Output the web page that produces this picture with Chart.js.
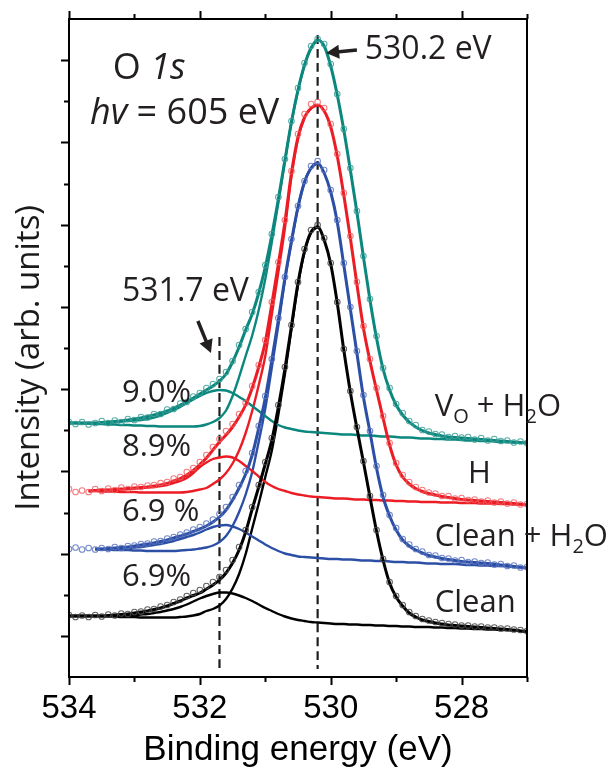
<!DOCTYPE html>
<html>
<head>
<meta charset="utf-8">
<script src="https://cdn.jsdelivr.net/npm/chart.js@4.4.0/dist/chart.umd.min.js"></script>
<style>
  html, body { margin: 0; padding: 0; background: #fff; }
  canvas { display: block; }
</style>
</head>
<body>
<canvas id="xps" width="612" height="778"></canvas>
<script>
// binding energy grid (eV), high to low
const energies = [534.0, 533.9, 533.8, 533.7, 533.6, 533.5, 533.4, 533.3, 533.2, 533.1,
  533.0, 532.9, 532.8, 532.7, 532.6, 532.5, 532.4, 532.3, 532.2, 532.1,
  532.0, 531.9, 531.8, 531.7, 531.6, 531.5, 531.4, 531.3, 531.2, 531.1,
  531.0, 530.9, 530.8, 530.7, 530.6, 530.5, 530.4, 530.3, 530.2, 530.1,
  530.0, 529.9, 529.8, 529.7, 529.6, 529.5, 529.4, 529.3, 529.2, 529.1,
  529.0, 528.9, 528.8, 528.7, 528.6, 528.5, 528.4, 528.3, 528.2, 528.1,
  528.0, 527.9, 527.8, 527.7, 527.6, 527.5, 527.4, 527.3, 527.2, 527.1, 527.0];

const xTickLabels = [534, 532, 530, 528];
const xMinorTicks = [533, 531, 529, 527];

// reference energies of the two O 1s components
const peakLattice = 530.2;
const peakHydroxyl = 531.7;

// V_O + H2O (stacked on top)
const voH2oData = [255, 253, 255, 252.5, 254, 256, 254, 256.5, 255, 258,
  257, 260, 259.5, 263, 263, 267.5, 268, 273.5, 275, 280.5,
  284, 289, 293, 298, 305, 316, 332, 348, 365, 385,
  412, 443, 480, 518, 556, 589, 614, 631, 638, 633,
  613, 583, 548, 509, 466, 421, 378, 341, 309, 289,
  273, 264, 256, 252, 247, 245.5, 243, 242.5, 240, 241,
  239.5, 240, 237.5, 239, 236.5, 238, 236, 236.5, 234.5, 235.5, 234];
const voH2oFit = [254, 254, 254, 254, 254, 254.5, 255, 255.5, 256, 257,
  258, 259, 260.5, 262, 264, 266, 269, 272, 275, 279,
  283, 287, 291, 296, 303, 315, 330, 347, 363, 384,
  410, 442, 478, 517, 555, 587, 612, 629, 637, 631,
  611, 582, 547, 507, 465, 420, 377, 339, 308, 287,
  272, 262, 255, 250, 246.5, 244, 242.5, 241, 240, 239.5,
  239, 238.5, 238, 237.5, 237, 236.5, 236, 235.5, 235, 234.5, 234];
const voH2oMain = [254, 254, 253.5, 253.5, 253, 253, 252.5, 252.5, 252, 252,
  251.5, 251.5, 251, 251, 250.5, 250.5, 250.5, 250.5, 250.5, 250.5,
  251, 252.5, 255, 259, 266.5, 281, 300, 321, 341.5, 367,
  398, 435, 474.5, 515.5, 554.5, 586.5, 612, 629, 637];
const voH2oOH = [254, 254, 254, 254, 254, 254, 254.5, 255, 255.5, 256,
  256.5, 257, 258, 259.5, 261.5, 264, 267, 270, 274, 277.5,
  281, 284, 286, 287, 286.5, 284, 280, 276, 271, 266,
  261, 256, 252, 249.5, 248, 246.5, 245.5, 245, 244.5, 244,
  243.5, 243, 242.5, 242.5, 242, 241.5, 241.5, 241, 240.5, 240.5,
  240, 239.5, 239.5, 239, 238.5, 238.5, 238, 238, 237.5, 237.5,
  237, 236.5, 236.5, 236, 236, 235.5, 235, 235, 234.5, 234.5, 234];

// H
const hData = [188, 185, 186.5, 185, 188, 186, 188.5, 187, 189.5, 188,
  190.5, 190, 191.5, 192, 194, 195, 198.5, 200, 205, 209,
  215, 222, 230, 238, 246, 253, 263, 274, 291, 312,
  337, 375, 415, 457, 506, 543, 563, 573, 575, 569,
  553, 523, 484, 441, 395, 351, 318, 289, 261, 234,
  214, 202, 195, 190, 187, 184.5, 183.5, 181, 181, 178.5,
  179, 177, 177.5, 175.5, 176.5, 174.5, 175.5, 173.5, 174.5, 172.5, 173];
const hFit = [null, null, null, 186, 186.5, 187, 187, 187.5, 188, 188.5,
  189, 189.5, 190, 191, 192, 193.5, 196, 198.5, 202, 206.5,
  212.5, 219, 227, 235, 242, 250, 260, 272, 289, 310,
  335, 373, 413, 455, 504, 540, 560, 569, 572, 566,
  550, 521, 482, 439, 393, 349, 316, 287, 259, 232,
  212, 200, 193, 188.5, 185.5, 183.5, 182, 180.5, 179.5, 178.5,
  177.5, 177, 176.5, 176, 175.5, 175, 174.5, 174, 173.5, 173, 172];
const hMain = [null, null, null, 186, 186, 185.5, 185.5, 185.5, 185, 185,
  185, 184.5, 184.5, 184.5, 184.5, 184.5, 184.5, 184.5, 185, 186,
  187.5, 189, 193, 197.5, 204, 213.5, 226.5, 244, 266, 292,
  321, 362.5, 405, 449, 500.5, 538, 559, 568.5, 572];
const hOH = [null, null, null, 186, 186.5, 186.5, 187, 187, 187.5, 188,
  188.5, 189, 189.5, 190, 191, 192, 194, 196, 199, 204,
  210, 214.5, 218, 219.5, 220.5, 219.5, 216, 211, 206, 200.5,
  195, 191, 188, 186, 184, 182.5, 181.5, 180.5, 180, 179.5,
  179, 178.5, 178.5, 178, 177.5, 177.5, 177, 177, 176.5, 176.5,
  176, 176, 175.5, 175.5, 175, 175, 175, 174.5, 174.5, 174.5,
  174, 174, 174, 173.5, 173.5, 173.5, 173, 173, 172.5, 172.5, 172];

// Clean + H2O
const cleanH2oData = [128, 129.5, 127.5, 129, 127.5, 129, 128, 130, 129, 131,
  131.5, 133, 133.5, 135.5, 136, 138.5, 140, 142.5, 144.5, 147.5,
  150, 153.5, 157.5, 163, 170, 180, 192, 206, 224, 251,
  281, 318, 359, 400, 438, 471, 496, 511, 516, 507,
  487, 457, 414, 370, 326, 282, 246, 211, 182, 162,
  149, 138, 132.5, 128, 125.5, 122, 121.5, 119, 118.5, 116.5,
  117, 115, 115.5, 114, 114.5, 112.5, 113, 111, 111.5, 109.5, 110];
const cleanH2oFit = [null, null, null, null, 128, 128, 128.5, 129, 129.5, 130,
  131, 132, 133, 134, 135.5, 137, 139, 141, 143, 145.5,
  148, 151, 155, 160, 167, 177, 189, 203, 222, 249,
  279, 317, 357, 399, 436, 470, 495, 509, 514, 504,
  485, 455, 412, 368, 324, 280, 245, 209, 180, 161,
  147, 137, 131, 127, 124, 121.5, 120, 118.5, 117.5, 116.5,
  115.5, 115, 114.5, 114, 113.5, 113, 112, 111.5, 110.5, 110, 109];
const cleanH2oMain = [null, null, null, null, 128, 127.5, 127.5, 127, 127, 127,
  126.5, 126.5, 126, 126, 126, 126, 126, 126.5, 127, 127.5,
  128.5, 129.5, 131.5, 135, 141, 151, 165, 182.5, 205, 235.5,
  268.5, 309.5, 352, 396.5, 434.5, 469.5, 495, 509, 514];
const cleanH2oOH = [null, null, null, null, 128, 128, 128, 128.5, 128.5, 129,
  129.5, 130, 131, 132, 133, 134.5, 136, 138, 140, 142,
  144.5, 147.5, 150, 151.5, 152, 150.5, 148, 144.5, 140.5, 136.5,
  132.5, 129, 126, 123.5, 122, 120.5, 120, 119.5, 119, 118.5,
  118, 118, 117.5, 117.5, 117, 116.5, 116.5, 116, 116, 115.5,
  115, 115, 114.5, 114.5, 114, 113.5, 113.5, 113, 113, 113,
  112.5, 112, 112, 111.5, 111.5, 111, 111, 110.5, 110, 109.5, 109];

// Clean
const cleanData = [62, 60, 61.5, 60, 62, 60.5, 62.5, 61.5, 63.5, 63,
  65, 65.5, 67.5, 68, 70.5, 72, 75, 77.5, 81, 84,
  87, 91, 95, 100, 107, 117, 130, 147, 170, 192,
  215, 239, 272, 310, 352, 395, 428, 447, 452, 439,
  414, 375, 328, 286, 250, 216, 181, 147, 118, 95,
  81, 72, 65, 61, 58, 56.5, 55, 54, 53, 52.5,
  51.5, 51.5, 50.5, 50.5, 49.5, 49.5, 48.5, 48.5, 47.5, 47, 46];
const cleanFit = [61, 61, 61, 61, 61, 61, 61.5, 62, 62.5, 63,
  64, 65, 66, 67.5, 69, 71, 73.5, 76, 79, 81.5,
  84, 88, 92, 97, 104, 114, 127, 145, 168, 190,
  213, 237, 270, 308, 351, 394, 426, 445, 450, 437,
  413, 374, 327, 285, 249, 215, 180, 146, 117, 94,
  80, 71, 64, 60, 57, 55.5, 54, 53, 52, 51.5,
  51, 50.5, 50, 49.5, 49, 48.5, 48, 47.5, 47, 46, 45.5];
const cleanMain = [61, 61, 61, 61, 61, 61, 60.5, 60.5, 60, 60,
  60, 59.5, 59.5, 59.5, 59.5, 59.5, 59.5, 60, 60.5, 61.5,
  63, 66, 68, 71.5, 78, 88.5, 103, 123, 148.5, 173.5,
  200, 226.5, 262.5, 303, 348, 392, 425, 444.5, 450];
const cleanOH = [61, 61, 61, 61, 61, 61, 61, 61.5, 61.5, 62,
  62, 62.5, 63, 64, 65, 66.5, 68, 70, 72.5, 75.5,
  78.5, 81, 83, 84.5, 84.5, 83.5, 81.5, 79, 76, 72.5,
  69, 66, 63, 60.5, 58.5, 57, 56, 55, 54.5, 54,
  53.5, 53, 53, 52.5, 52.5, 52, 52, 51.5, 51.5, 51,
  51, 50.5, 50.5, 50, 50, 50, 49.5, 49.5, 49, 49,
  48.5, 48.5, 48, 48, 47.5, 47.5, 47, 47, 46.5, 46, 45.5];

const toPoints = vals => vals
  .map((v, i) => ({ x: energies[i], y: v }))
  .filter(p => p.y !== null);

const spectrum = (data, fit, main, oh, line, dots) => [
  { data: toPoints(data), showLine: false, pointRadius: 2.8, pointBorderWidth: 1.1,
    pointBorderColor: dots, pointBackgroundColor: 'rgba(255,255,255,0)', order: 0 },
  { data: toPoints(fit), borderColor: line, borderWidth: 3, pointRadius: 0, order: 1 },
  { data: toPoints(main), borderColor: line, borderWidth: 2.4, pointRadius: 0, order: 2 },
  { data: toPoints(oh), borderColor: line, borderWidth: 2.4, pointRadius: 0, order: 2 }
];

// dashed markers: [energy, top of the dash]
const markers = [[peakHydroxyl, 340], [peakLattice, 642]];
const markerSets = markers.map(([e, top]) => ({
  data: [{ x: e, y: top }, { x: e, y: 8 }],
  borderColor: '#1e1e1e', borderWidth: 2.2, borderDash: [9, 5],
  pointRadius: 0, order: 3
}));

const datasets = [
  ...spectrum(voH2oData, voH2oFit, voH2oMain, voH2oOH, '#0b877e', 'rgba(60,160,152,0.85)'),
  ...spectrum(hData, hFit, hMain, hOH, '#ec1c24', 'rgba(240,90,95,0.8)'),
  ...spectrum(cleanH2oData, cleanH2oFit, cleanH2oMain, cleanH2oOH, '#2c4fa6', 'rgba(90,115,190,0.85)'),
  ...spectrum(cleanData, cleanFit, cleanMain, cleanOH, '#000000', 'rgba(70,70,70,0.85)'),
  ...markerSets
];

// text labels placed in data space
const notes = [
  { at: [533.33, 608], size: 36, parts: [['O '], ['1s', 'i']] },
  { at: [533.68, 563], size: 36, parts: [['hv', 'i'], [' = 605 eV']] },
  { at: [529.48, 627], size: 32, parts: [['530.2 eV']] },
  { at: [533.19, 385.5], size: 32, parts: [['531.7 eV']] },
  { at: [533.19, 284], size: 31, parts: [['9.0%']] },
  { at: [533.19, 229.5], size: 31, parts: [['8.9%']] },
  { at: [533.19, 165], size: 31, parts: [['6.9 %']] },
  { at: [533.19, 99.5], size: 31, parts: [['6.9%']] },
  { at: [528.41, 269.5], size: 31, parts: [['V'], ['O', 'sub'], [' + H'], ['2', 'sub'], ['O']] },
  { at: [527.90, 203], size: 31, parts: [['H']] },
  { at: [528.41, 140], size: 31, parts: [['Clean + H'], ['2', 'sub'], ['O']] },
  { at: [528.41, 74], size: 31, parts: [['Clean']] }
];
const arrows = [
  { from: [529.60, 627], to: [530.07, 624] },
  { from: [532.03, 356], to: [531.83, 324] }
];
const yTitle = 'Intensity (arb. units)';

const frame = {
  id: 'frame',
  afterDraw(chart) {
    const { ctx, chartArea: a, scales: { x, y } } = chart;
    ctx.save();
    ctx.strokeStyle = '#000';
    ctx.lineWidth = 2;
    ctx.strokeRect(a.left, a.top, a.right - a.left, a.bottom - a.top);

    // tick marks, pointing out of the box
    ctx.beginPath();
    const step = (y.max - y.min) / 16;
    for (let k = 1; k < 16; k++) {
      const py = Math.round(y.getPixelForValue(k * step)) + 0.5;
      const len = k % 2 ? 8 : 5;
      ctx.moveTo(a.left - len, py); ctx.lineTo(a.left, py);
    }
    const xt = (list, len) => list.forEach(v => {
      const px = Math.round(x.getPixelForValue(v)) + 0.5;
      ctx.moveTo(px, a.bottom); ctx.lineTo(px, a.bottom + len);
      ctx.moveTo(px, a.top); ctx.lineTo(px, a.top - len);
    });
    xt(xTickLabels, 8);
    xt(xMinorTicks, 5);
    ctx.stroke();

    // vertical axis title, sitting a little below the middle of the frame
    ctx.save();
    ctx.translate(30, a.top + (a.bottom - a.top) * 0.515);
    ctx.rotate(-Math.PI / 2);
    ctx.fillStyle = '#1a1a1a';
    ctx.font = '33px "Open Sans"';
    ctx.textAlign = 'center';
    ctx.textBaseline = 'middle';
    ctx.fillText(yTitle, 0, 0);
    ctx.restore();

    // labels
    ctx.fillStyle = '#231f20';
    ctx.textBaseline = 'middle';
    ctx.textAlign = 'left';
    notes.forEach(n => {
      let px = x.getPixelForValue(n.at[0]);
      const py = y.getPixelForValue(n.at[1]);
      n.parts.forEach(([t, style]) => {
        const sub = style === 'sub';
        const size = sub ? Math.round(n.size * 0.66) : n.size;
        ctx.font = (style === 'i' ? 'italic ' : '') + size + 'px "Open Sans"';
        ctx.fillText(t, px, py + (sub ? n.size * 0.33 : 0));
        px += ctx.measureText(t).width;
      });
    });

    // arrows
    ctx.strokeStyle = '#231f20';
    ctx.lineWidth = 3.5;
    arrows.forEach(({ from, to }) => {
      const x0 = x.getPixelForValue(from[0]), y0 = y.getPixelForValue(from[1]);
      const x1 = x.getPixelForValue(to[0]), y1 = y.getPixelForValue(to[1]);
      const ang = Math.atan2(y1 - y0, x1 - x0);
      const head = 13;
      ctx.beginPath();
      ctx.moveTo(x0, y0);
      ctx.lineTo(x1 - Math.cos(ang) * head * 0.8, y1 - Math.sin(ang) * head * 0.8);
      ctx.stroke();
      ctx.beginPath();
      ctx.moveTo(x1, y1);
      ctx.lineTo(x1 - head * Math.cos(ang) + 7 * Math.sin(ang), y1 - head * Math.sin(ang) - 7 * Math.cos(ang));
      ctx.lineTo(x1 - head * Math.cos(ang) - 7 * Math.sin(ang), y1 - head * Math.sin(ang) + 7 * Math.cos(ang));
      ctx.closePath();
      ctx.fill();
    });
    ctx.restore();
  }
};

new Chart(document.getElementById('xps'), {
  type: 'line',
  data: { datasets },
  options: {
    responsive: false,
    animation: false,
    devicePixelRatio: 1,
    layout: { padding: { top: 19, right: 85, left: 0, bottom: 0 } },
    plugins: { legend: { display: false }, tooltip: { enabled: false } },
    elements: { line: { cubicInterpolationMode: 'monotone' } },
    scales: {
      x: {
        type: 'linear', reverse: true, min: 527, max: 534,
        afterBuildTicks: s => { s.ticks = xTickLabels.map(v => ({ value: v })); },
        afterFit: s => { s.height = 101; },
        grid: { display: false, drawTicks: false },
        border: { display: false },
        ticks: { color: '#000', padding: 12, maxRotation: 0, callback: v => v,
                 font: { family: 'Liberation Sans', size: 33 } },
        title: { display: true, text: 'Binding energy (eV)', color: '#000',
                 font: { family: 'Liberation Sans', size: 35 }, padding: { top: 0, bottom: 7 } }
      },
      y: {
        min: 0, max: 658,
        afterFit: s => { s.width = 69; },
        grid: { display: false, drawTicks: false },
        border: { display: false },
        ticks: { display: false }
      }
    }
  },
  plugins: [frame]
});
</script>
</body>
</html>
